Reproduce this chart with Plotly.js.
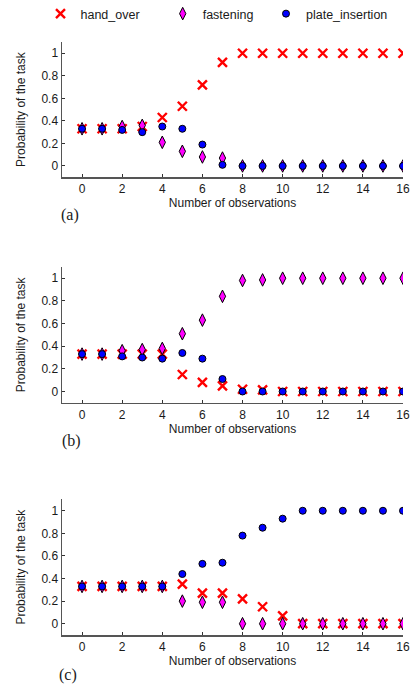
<!DOCTYPE html>
<html>
<head>
<meta charset="utf-8">
<script src="https://cdn.plot.ly/plotly-3.0.1.min.js"></script>
<style>html,body{margin:0;padding:0;background:#fff;}#chart{width:411px;height:687px;}</style>
</head>
<body>
<div id="chart"></div>
<script>
const seriesNames = ["hand_over", "fastening", "plate_insertion"];
const observations = [0,1,2,3,4,5,6,7,8,9,10,11,12,13,14,15,16];
const panelLabels = ["(a)", "(b)", "(c)"];
const xTitle = "Number of observations";
const yTitle = "Probability of the task";

// Panel (a)
const handOverA = [0.33,0.33,0.33,0.35,0.43,0.53,0.72,0.92,1,1,1,1,1,1,1,1,1];
const fasteningA = [0.33,0.33,0.35,0.36,0.21,0.13,0.08,0.07,0,0,0,0,0,0,0,0,0];
const plateA = [0.33,0.33,0.32,0.30,0.35,0.33,0.19,0.01,0,0,0,0,0,0,0,0,0];
// Panel (b)
const handOverB = [0.33,0.33,0.33,0.33,0.33,0.15,0.08,0.05,0.02,0.015,0,0,0,0,0,0,0];
const fasteningB = [0.33,0.33,0.36,0.37,0.38,0.51,0.63,0.84,0.98,0.985,1,1,1,1,1,1,1];
const plateB = [0.33,0.33,0.31,0.30,0.29,0.34,0.29,0.11,0,0,0,0,0,0,0,0,0];
// Panel (c)
const handOverC = [0.33,0.33,0.33,0.33,0.33,0.35,0.27,0.27,0.22,0.15,0.07,0,0,0,0,0,0];
const fasteningC = [0.33,0.33,0.33,0.33,0.33,0.20,0.19,0.19,0,0,0,0,0,0,0,0,0];
const plateC = [0.33,0.33,0.33,0.33,0.33,0.44,0.53,0.54,0.78,0.85,0.93,1,1,1,1,1,1];

const panels = [
  [handOverA, fasteningA, plateA],
  [handOverB, fasteningB, plateB],
  [handOverC, fasteningC, plateC]
];

// ---- styling / layout (pixels) ----
const W = 411, H = 687;
const M = {l: 61.7, r: 8.3, t: 42, b: 51.7};
const plotH = H - M.t - M.b, plotW = W - M.l - M.r;
const fy = px => (H - M.b - px) / plotH;
const fx = px => (px - M.l) / plotW;
const panelPx = [[42, 177.3], [267, 403], [499.7, 635.3]];
const labelPx = [[70, 215], [71, 441], [68, 675]];

const markerStyles = [
  {symbol: "x-thin", size: 9, color: "#ff0000", line: {color: "#ff0000", width: 2.4}},
  {symbol: "diamond-tall", size: 9, color: "#ff00ff", line: {color: "#000000", width: 1}},
  {symbol: "circle", size: 7, color: "#0000ff", line: {color: "#000000", width: 1}}
];
// legend id and left position (px) per series
const legendIds = ["legend3", "legend2", "legend"];
const legendX = [40.5, 162.7, 266];

const font = {family: "Liberation Sans, Arial, sans-serif", size: 12, color: "#1a1a1a"};
const traces = [];
panels.forEach((vals, p) => {
  const sfx = p === 0 ? "" : String(p + 1);
  vals.forEach((ys, s) => {
    traces.push({
      type: "scatter", mode: "markers",
      x: observations, y: ys,
      name: seriesNames[s],
      xaxis: "x" + sfx, yaxis: "y" + sfx,
      marker: markerStyles[s],
      showlegend: p === 0,
      legend: legendIds[s],
      hoverinfo: "x+y+name"
    });
  });
});

const layout = {
  width: W, height: H,
  margin: M,
  paper_bgcolor: "#fff", plot_bgcolor: "#fff",
  font: font,
  annotations: [],
  showlegend: true
};
[0,1,2].forEach(s => {
  layout[legendIds[s]] = {
    orientation: "h",
    xref: "container", yref: "container",
    x: legendX[s] / W, xanchor: "left",
    y: 1 - 14 / H, yanchor: "middle",
    font: {family: font.family, size: 12.5, color: "#1a1a1a"},
    bgcolor: "rgba(0,0,0,0)", borderwidth: 0
  };
});
panelPx.forEach((pp, p) => {
  const sfx = p === 0 ? "" : String(p + 1);
  layout["xaxis" + sfx] = {
    domain: [0, 1], anchor: "y" + sfx, range: [-1, 16],
    tickmode: "linear", tick0: 0, dtick: 2,
    ticks: "inside", ticklen: 3, tickwidth: 1, tickcolor: "#333",
    showline: true, linecolor: "#555", linewidth: 1.5, mirror: false,
    showgrid: false, zeroline: false,
    tickfont: font,
    title: {text: xTitle, font: font, standoff: 2}
  };
  layout["yaxis" + sfx] = {
    domain: [fy(pp[1]), fy(pp[0])], anchor: "x" + sfx, range: [-0.1, 1.1],
    tickmode: "linear", tick0: 0, dtick: 0.2,
    ticks: "inside", ticklen: 3, tickwidth: 1, tickcolor: "#333",
    showline: true, linecolor: "#555", linewidth: 1.5, mirror: false,
    showgrid: false, zeroline: false,
    tickfont: font,
    automargin: true,
    title: {text: yTitle, font: font, standoff: 13}
  };
  layout.annotations.push({
    text: panelLabels[p], xref: "paper", yref: "paper",
    x: fx(labelPx[p][0]), y: fy(labelPx[p][1]),
    xanchor: "center", yanchor: "middle", showarrow: false,
    font: {family: "Liberation Serif, Times New Roman, serif", size: 16, color: "#1a1a1a"}
  });
});

Plotly.newPlot("chart", traces, layout, {displayModeBar: false, staticPlot: true});
</script>
</body>
</html>
